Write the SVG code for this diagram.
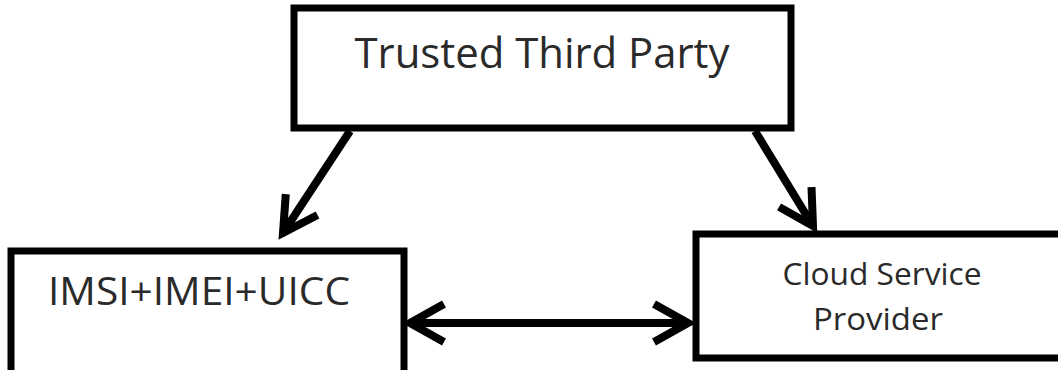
<svg xmlns="http://www.w3.org/2000/svg" width="1058" height="370" viewBox="0 0 1058 370">
  <style>
    .box { fill: #ffffff; stroke: #000000; stroke-width: 7; }
    .lbl { font-family: "Open Sans", "Liberation Sans", sans-serif; fill: #2a2a2a; }
    .conn { fill: none; stroke: #000000; stroke-width: 8; }
  </style>
  <defs>
    <marker id="arrow" markerUnits="userSpaceOnUse" viewBox="-50 -30 60 60" refX="0" refY="0" markerWidth="60" markerHeight="60" orient="auto-start-reverse">
      <path d="M-34,-19 L0,0 L-34,19" fill="none" stroke="#000000" stroke-width="8" stroke-linejoin="miter"/>
    </marker>
  </defs>
  <rect width="1058" height="370" fill="#ffffff"/>
  <g id="trusted-third-party">
    <rect class="box" x="294" y="8" width="497" height="120"/>
    <text class="lbl" x="542" y="68" font-size="42" text-anchor="middle" textLength="375" lengthAdjust="spacingAndGlyphs">Trusted Third Party</text>
  </g>
  <g id="imsi-imei-uicc">
    <rect class="box" x="11" y="251" width="393" height="140"/>
    <text class="lbl" x="48" y="305" font-size="38" textLength="302" lengthAdjust="spacingAndGlyphs">IMSI+IMEI+UICC</text>
  </g>
  <g id="cloud-service-provider">
    <rect class="box" x="696" y="234" width="400" height="124"/>
    <text class="lbl" x="882" y="285" font-size="31" text-anchor="middle" textLength="199" lengthAdjust="spacingAndGlyphs">Cloud Service</text>
    <text class="lbl" x="878" y="330" font-size="31" text-anchor="middle" textLength="130" lengthAdjust="spacingAndGlyphs">Provider</text>
  </g>
  <g id="connectors">
    <path class="conn" d="M350,131 L283,233" marker-end="url(#arrow)"/>
    <path class="conn" d="M755,131 L813,226" marker-end="url(#arrow)"/>
    <path class="conn" d="M410,323 L688,323" marker-start="url(#arrow)" marker-end="url(#arrow)"/>
  </g>
</svg>
